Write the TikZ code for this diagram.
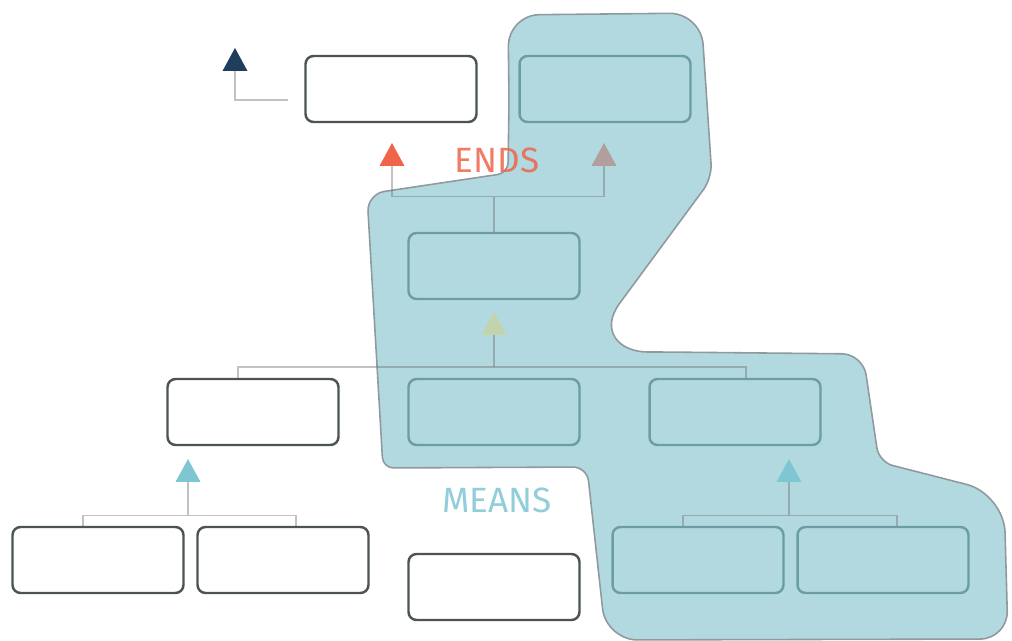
\documentclass[tikz,border=0pt]{standalone}
\usepackage{fontspec}
\newfontfamily\labelfont{Fira Sans}
\usetikzlibrary{arrows.meta}
\definecolor{blobfill}{HTML}{B3D9E0}
\definecolor{blobline}{HTML}{8E9A9D}
\definecolor{tintline}{HTML}{6C9DA4}
\definecolor{plainline}{HTML}{4C5356}
\definecolor{navy}{HTML}{1F3D5C}
\definecolor{endsred}{HTML}{F0644A}
\definecolor{endsgrey}{HTML}{B09F9D}
\definecolor{olive}{HTML}{C3D3AE}
\definecolor{meanscyan}{HTML}{7EC6D2}
\tikzset{
  plainbox/.style={draw=plainline,fill=white,line width=1.4pt,rounded corners=0.16cm,
    minimum width=3.42cm,minimum height=1.32cm,inner sep=0pt},
  tintbox/.style={plainbox,draw=tintline,fill=none},
  conn/.style={draw=black!60,draw opacity=0.4,line width=0.7pt},
  head/.style={-{Triangle[width=5mm,length=4.6mm,color=#1,line width=0pt]}},
  label/.style={font=\labelfont\fontsize{20}{20}\selectfont,text opacity=0.85},
}

\begin{document}
\begin{tikzpicture}[x=0.02cm,y=-0.02cm]
  \useasboundingbox (0,0) rectangle (1012,641);
  % shaded region
  \draw[draw=blobline,fill=blobfill,line width=0.9pt,rounded corners=8pt]
    (509,100) [rounded corners=18pt] -- (508,15) -- (701,13)
    [rounded corners=8pt] -- (712,178) -- (628,292)
    .. controls (600,330) and (618,352) .. (662,352)
    [rounded corners=12pt] -- (863,354) [rounded corners=8pt] -- (879,462)
    [rounded corners=22pt] -- (1004,494) [rounded corners=16pt] -- (1008,639)
    [rounded corners=18pt] -- (606,640) [rounded corners=8pt] -- (587,467)
    [rounded corners=6pt] -- (383,468) [rounded corners=10pt] -- (367,194)
    [rounded corners=6pt] -- (508,173) -- cycle;
  % boxes
  \node[plainbox](aim) at (391,89){};
  \node[tintbox](goal) at (605,89){};
  \node[tintbox](hub) at (494,266){};
  \node[plainbox](rowA) at (253,412){};
  \node[tintbox](rowB) at (494,412){};
  \node[tintbox](rowC) at (735,412){};
  \node[plainbox](lowA) at (98,560){};
  \node[plainbox](lowB) at (283,560){};
  \node[tintbox](lowC) at (698,560){};
  \node[tintbox](lowD) at (883,560){};
  \node[plainbox](spare) at (494,587){};
  % connectors
  \coordinate(back) at (288,100);
  \coordinate(backtip) at (235,48);
  \coordinate(endsL) at (392,143);
  \coordinate(endsR) at (604,143);
  \coordinate(midbar) at (494,367);
  \coordinate(midtip) at (494,312);
  \coordinate(midL) at (238,378);
  \coordinate(midR) at (746,378);
  \coordinate(lowbarL) at (188,515);
  \coordinate(lowtipL) at (188,459);
  \coordinate(lowbarR) at (789,515);
  \coordinate(lowtipR) at (789,459);
  \draw[conn,head=navy](back) -| (backtip);
  \draw[conn](hub.north) -- ++(0,-35) coordinate(endsbar);
  \draw[conn,head=endsred](endsbar) -| (endsL);
  \draw[conn,head=endsgrey](endsbar) -| (endsR);
  \draw[conn](midL) -- ++(0,-11) -| (midR);
  \draw[conn,head=olive](midbar) -- (midtip);
  \draw[conn]([xshift=-0.3cm]lowA.north) -- ++(0,-10) -| ([xshift=0.26cm]lowB.north);
  \draw[conn,head=meanscyan](lowbarL) -- (lowtipL);
  \draw[conn]([xshift=-0.3cm]lowC.north) -- ++(0,-10) -| ([xshift=0.28cm]lowD.north);
  \draw[conn,head=meanscyan](lowbarR) -- (lowtipR);
  % labels
  \node[label,text=endsred](ends) at (497,160){ENDS};
  \node[label,text=meanscyan](means) at (497,500){MEANS};
\end{tikzpicture}
\end{document}
